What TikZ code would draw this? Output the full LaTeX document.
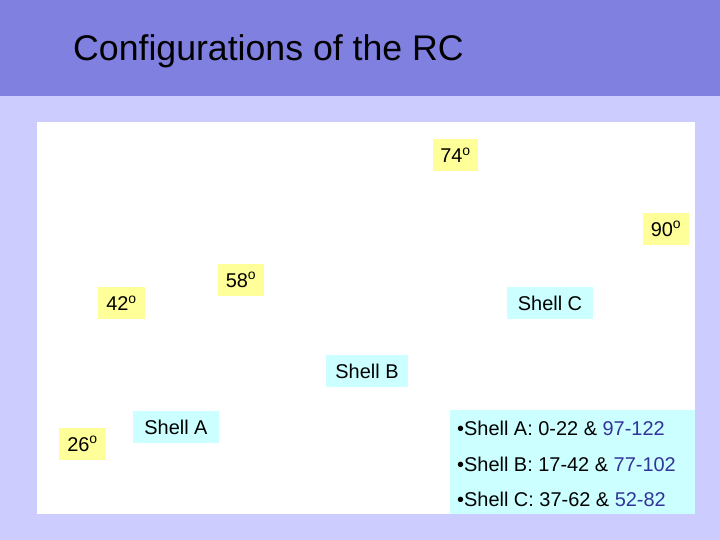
\documentclass[tikz,border=0pt]{standalone}
\usepackage{fontspec}
\setmainfont{Liberation Sans}
\definecolor{bandblue}{HTML}{8080E0}
\definecolor{slidebg}{HTML}{CCCCFF}
\definecolor{degyellow}{HTML}{FFFF99}
\definecolor{shellcyan}{HTML}{CCFFFF}
\definecolor{rangeblue}{HTML}{333399}
\newcommand{\dg}[1]{#1\textsuperscript{o}}
\begin{document}
\begin{tikzpicture}[x=1bp, y=-1bp,
		deg/.style={fill=degyellow, inner sep=0pt, minimum width=46bp, minimum height=32bp,
			font=\fontsize{20}{24}\selectfont},
		shell/.style={fill=shellcyan, inner sep=0pt, minimum width=86bp, minimum height=32bp,
			font=\fontsize{20}{24}\selectfont},
		rangeline/.style={anchor=base west, inner sep=0pt, font=\fontsize{20}{24}\selectfont}]
		\useasboundingbox (0,0) rectangle (720,540);
		% background
		\fill[slidebg] (0,0) rectangle (720,540);
		\fill[bandblue] (0,0) rectangle (720,96);
		\node[anchor=base west, inner sep=0pt, font=\fontsize{35.8}{40}\selectfont] (title) at (73,61) {Configurations of the RC};
		\fill[white] (37,122) rectangle (695,514);
		% angles
		\node[deg, minimum width=45bp] (a74) at (455.5,155) {\dg{74}};
		\node[deg] (a90) at (666,229) {\dg{90}};
		\node[deg] (a58) at (241,280) {\dg{58}};
		\node[deg, minimum width=47bp] (a42) at (121.5,303) {\dg{42}};
		\node[deg, minimum width=47bp] (a26) at (82.5,444) {\dg{26}};
		% shells
		\node[shell] (shC) at (550,303) {Shell C};
		\node[shell, minimum width=82bp] (shB) at (367,371) {Shell B};
		\node[shell] (shA) at (176,427) {Shell A};
		% ranges
		\fill[shellcyan] (450,410) rectangle (695,514);
		\node[rangeline] (rA) at (457,435) {•Shell A: 0-22 \& \textcolor{rangeblue}{97-122}};
		\node[rangeline] (rB) at (457,471) {•Shell B: 17-42 \& \textcolor{rangeblue}{77-102}};
		\node[rangeline] (rC) at (457,506) {•Shell C: 37-62 \& \textcolor{rangeblue}{52-82}};
\end{tikzpicture}
\end{document}
